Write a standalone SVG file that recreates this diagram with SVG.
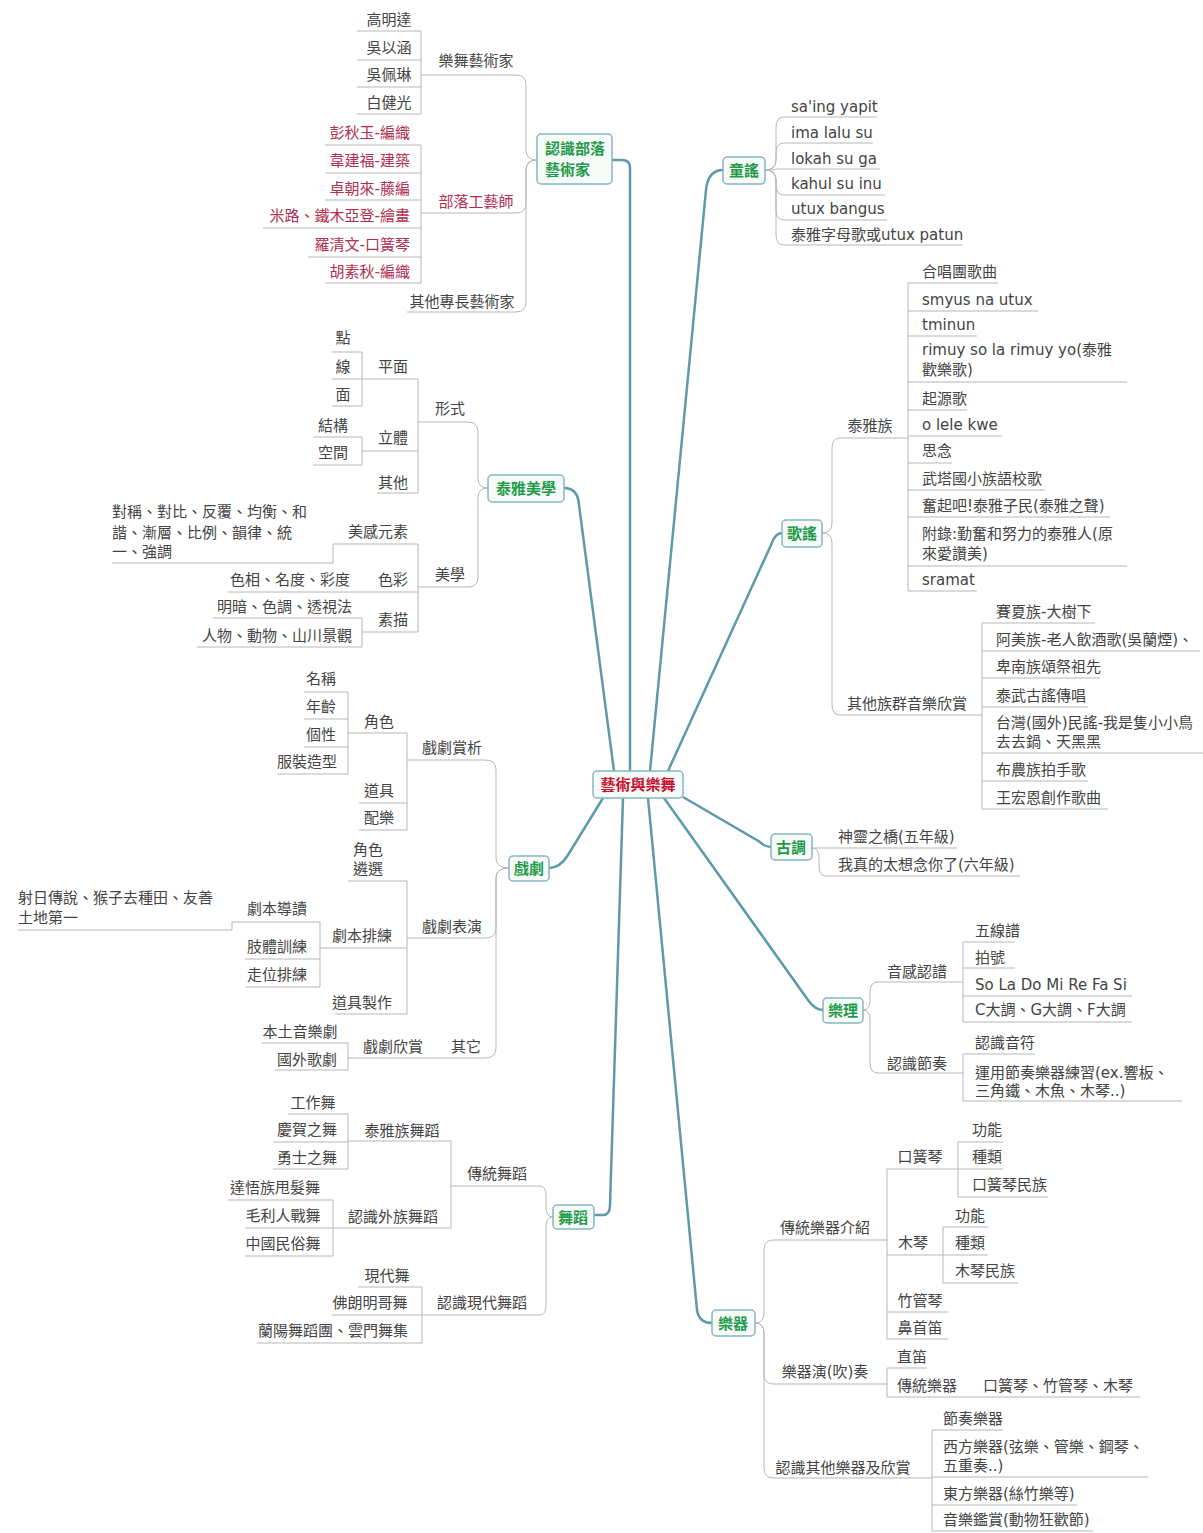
<svg xmlns="http://www.w3.org/2000/svg" width="1203" height="1533" viewBox="0 0 1203 1533">
<style>
text{font-family:"DejaVu Sans","Noto Sans CJK TC",sans-serif;font-size:15px;fill:#444}
.m{text-anchor:middle}
.e{text-anchor:end}
.r{fill:#b0304f}
.bx{fill:#f6fbf8;stroke:#86b6c1;stroke-width:1.5}
.bt{font-family:"Noto Sans CJK TC",sans-serif;font-weight:bold;fill:#1f9a4a}
.ct{font-family:"Noto Sans CJK TC",sans-serif;font-weight:bold;fill:#c8102e;text-anchor:middle}
.main{fill:none;stroke:#5e9aaa;stroke-width:2.5}
.sub{fill:none;stroke:#b5b8b8;stroke-width:1}
line{stroke:#b5b8b8;stroke-width:1}
</style>

<g id="connectors">
  <g id="main-lines">
    <path class="main" d="M612,160 H622 Q630,160 630,168 V771"/>
    <path class="main" d="M564,488 Q578,488 579,505 L614,771"/>
    <path class="main" d="M549,868 Q560,868 568,855 L603,798"/>
    <path class="main" d="M594,1215 H603 Q610,1215 610,1205 L623,798"/>
    <path class="main" d="M650,771 L706,190 Q708,170 723,170"/>
    <path class="main" d="M668,771 L771,545 Q775,533 782,533"/>
    <path class="main" d="M683,797 L760,842 Q765,847 771,847"/>
    <path class="main" d="M664,798 L808,1000 Q815,1010 823,1010"/>
    <path class="main" d="M648,798 L697,1310 Q699,1323 712,1323"/>
  </g>
  <g id="branch-curves">
    <path class="sub" d="M537,160 Q526,160 526,150 V85 Q526,75 516,75"/>
    <path class="sub" d="M537,160 Q526,160 526,170 V203 Q526,213 516,213"/>
    <path class="sub" d="M537,160 Q526,160 526,170 V302 Q526,312 516,312"/>
    <path class="sub" d="M488,488 Q478,488 478,478 V432 Q478,422 468,422"/>
    <path class="sub" d="M488,488 Q478,488 478,498 V577 Q478,587 468,587"/>
    <path class="sub" d="M509,868 Q496,868 496,858 V770 Q496,760 485,760"/>
    <path class="sub" d="M509,868 Q496,868 496,878 V928 Q496,938 485,938"/>
    <path class="sub" d="M509,868 Q496,868 496,878 V1048 Q496,1058 485,1058"/>
    <path class="sub" d="M553,1217 Q546,1217 546,1207 V1196 Q546,1186 540,1186"/>
    <path class="sub" d="M553,1217 Q546,1217 546,1227 V1305 Q546,1315 540,1315"/>
    <path class="sub" d="M765,170 Q776,170 776,160 V127 Q776,117 784,117"/>
    <path class="sub" d="M765,170 Q776,170 776,160 V153 Q776,143 784,143"/>
    <path class="sub" d="M765,170 Q776,170 776,169 Q776,169 784,169"/>
    <path class="sub" d="M765,170 Q776,170 776,180 V185 Q776,195 784,195"/>
    <path class="sub" d="M765,170 Q776,170 776,180 V210 Q776,220 784,220"/>
    <path class="sub" d="M765,170 Q776,170 776,180 V235 Q776,245 784,245"/>
    <path class="sub" d="M822,533 Q832,533 832,523 V448 Q832,438 840,438"/>
    <path class="sub" d="M822,533 Q832,533 832,543 V705 Q832,715 840,715"/>
    <path class="sub" d="M812,848 H826"/>
    <path class="sub" d="M812,848 Q819,848 819,858 V866 Q819,876 826,876"/>
    <path class="sub" d="M863,1010 Q870,1010 870,1000 V992 Q870,982 878,982"/>
    <path class="sub" d="M863,1010 Q870,1010 870,1020 V1063 Q870,1073 878,1073"/>
    <path class="sub" d="M755,1323 Q764,1323 764,1313 V1250 Q764,1240 773,1240"/>
    <path class="sub" d="M755,1323 Q764,1323 764,1333 V1374 Q764,1384 773,1384"/>
    <path class="sub" d="M755,1323 Q764,1323 764,1333 V1468 Q764,1478 773,1478"/>
  </g>
  <g id="brackets">
    <path class="sub" d="M421,31 V114"/>
    <path class="sub" d="M421,145 V283"/>
    <path class="sub" d="M418,379 V493"/>
    <path class="sub" d="M362,352 V406"/>
    <path class="sub" d="M362,437 V465"/>
    <path class="sub" d="M418,544 V632"/>
    <path class="sub" d="M112,563 H333 V544"/>
    <path class="sub" d="M362,618 V647"/>
    <path class="sub" d="M407,733 V830"/>
    <path class="sub" d="M348,692 V774"/>
    <path class="sub" d="M407,881 V1014"/>
    <path class="sub" d="M320,922 V987"/>
    <path class="sub" d="M18,930 H232 V922"/>
    <path class="sub" d="M348,1043 V1070"/>
    <path class="sub" d="M451,1141 V1228"/>
    <path class="sub" d="M348,1114 V1169"/>
    <path class="sub" d="M333,1200 V1256"/>
    <path class="sub" d="M422,1287 V1343"/>
    <path class="sub" d="M908,283 V591"/>
    <path class="sub" d="M982,623 V809"/>
    <path class="sub" d="M963,942 V1022"/>
    <path class="sub" d="M963,1054 V1101"/>
    <path class="sub" d="M887,1169 V1339"/>
    <path class="sub" d="M958,1142 V1197"/>
    <path class="sub" d="M943,1227 V1283"/>
    <path class="sub" d="M887,1368 V1397"/>
    <path class="sub" d="M932,1430 V1531"/>
  </g>
</g>

<g id="root"><rect class="bx" x="593" y="771" width="90" height="27" rx="4"/><text class="ct" x="638" y="790">藝術與樂舞</text></g>

<g id="n-artists"><rect class="bx" x="537" y="134" width="75" height="50" rx="4"/><text class="bt" x="545" y="154">認識部落</text><text class="bt" x="545" y="175">藝術家</text></g>
<g id="n-dance-art"><text class="m" x="476" y="66">樂舞藝術家</text><line x1="421" y1="75" x2="516" y2="75"/></g>
<g id="n-a1"><text class="m" x="389" y="25">高明達</text><line x1="357" y1="31" x2="421" y2="31"/></g>
<g id="n-a2"><text class="m" x="389" y="53">吳以涵</text><line x1="357" y1="60" x2="421" y2="60"/></g>
<g id="n-a3"><text class="m" x="389" y="80">吳佩琳</text><line x1="357" y1="87" x2="421" y2="87"/></g>
<g id="n-a4"><text class="m" x="389" y="108">白健光</text><line x1="357" y1="114" x2="421" y2="114"/></g>
<g id="n-craft"><text class="m r" x="476" y="207">部落工藝師</text><line x1="421" y1="213" x2="516" y2="213"/></g>
<g id="n-c1"><text class="e r" x="410" y="138">彭秋玉-編織</text><line x1="325" y1="145" x2="421" y2="145"/></g>
<g id="n-c2"><text class="e r" x="410" y="166">韋建福-建築</text><line x1="325" y1="173" x2="421" y2="173"/></g>
<g id="n-c3"><text class="e r" x="410" y="194">卓朝來-藤編</text><line x1="325" y1="200" x2="421" y2="200"/></g>
<g id="n-c4"><text class="e r" x="410" y="221">米路、鐵木亞登-繪畫</text><line x1="263" y1="228" x2="421" y2="228"/></g>
<g id="n-c5"><text class="e r" x="410" y="250">羅清文-口簧琴</text><line x1="308" y1="257" x2="421" y2="257"/></g>
<g id="n-c6"><text class="e r" x="410" y="277">胡素秋-編織</text><line x1="325" y1="283" x2="421" y2="283"/></g>
<g id="n-other-art"><text class="m" x="462" y="307">其他專長藝術家</text><line x1="407" y1="312" x2="516" y2="312"/></g>

<g id="n-aesthetics"><rect class="bx" x="488" y="475" width="76" height="27" rx="4"/><text class="bt m" x="526" y="494">泰雅美學</text></g>
<g id="n-form"><text class="m" x="450" y="414">形式</text><line x1="418" y1="422" x2="468" y2="422"/></g>
<g id="n-plane"><text class="m" x="393" y="372">平面</text><line x1="362" y1="379" x2="418" y2="379"/></g>
<g id="n-dot"><text class="m" x="343" y="343">點</text><line x1="332" y1="352" x2="362" y2="352"/></g>
<g id="n-line"><text class="m" x="343" y="372">線</text><line x1="332" y1="379" x2="362" y2="379"/></g>
<g id="n-face"><text class="m" x="343" y="400">面</text><line x1="332" y1="406" x2="362" y2="406"/></g>
<g id="n-solid"><text class="m" x="393" y="443">立體</text><line x1="362" y1="451" x2="418" y2="451"/></g>
<g id="n-struct"><text class="m" x="333" y="431">結構</text><line x1="313" y1="437" x2="362" y2="437"/></g>
<g id="n-space"><text class="m" x="333" y="458">空間</text><line x1="313" y1="465" x2="362" y2="465"/></g>
<g id="n-f-other"><text class="m" x="393" y="488">其他</text><line x1="377" y1="493" x2="418" y2="493"/></g>
<g id="n-beauty"><text class="m" x="450" y="580">美學</text><line x1="418" y1="587" x2="468" y2="587"/></g>
<g id="n-elements"><text class="m" x="378" y="537">美感元素</text><line x1="333" y1="544" x2="418" y2="544"/></g>
<g id="n-elements-list"><text x="112" y="517">對稱、對比、反覆、均衡、和</text><text x="112" y="538">諧、漸層、比例、韻律、統</text><text x="112" y="557">一、強調</text></g>
<g id="n-color"><text class="m" x="393" y="585">色彩</text><line x1="378" y1="592" x2="418" y2="592"/></g>
<g id="n-color-list"><text class="e" x="350" y="585">色相、名度、彩度</text><line x1="228" y1="592" x2="378" y2="592"/></g>
<g id="n-sketch"><text class="m" x="393" y="625">素描</text><line x1="362" y1="632" x2="418" y2="632"/></g>
<g id="n-sk1"><text class="e" x="352" y="612">明暗、色調、透視法</text><line x1="213" y1="618" x2="362" y2="618"/></g>
<g id="n-sk2"><text class="e" x="352" y="641">人物、動物、山川景觀</text><line x1="197" y1="647" x2="362" y2="647"/></g>

<g id="n-drama"><rect class="bx" x="509" y="856" width="40" height="25" rx="4"/><text class="bt m" x="529" y="874">戲劇</text></g>
<g id="n-d-appr"><text class="m" x="452" y="753">戲劇賞析</text><line x1="407" y1="760" x2="485" y2="760"/></g>
<g id="n-role"><text class="m" x="379" y="727">角色</text><line x1="348" y1="733" x2="407" y2="733"/></g>
<g id="n-r1"><text class="m" x="321" y="684">名稱</text><line x1="304" y1="692" x2="348" y2="692"/></g>
<g id="n-r2"><text class="m" x="321" y="712">年齡</text><line x1="304" y1="719" x2="348" y2="719"/></g>
<g id="n-r3"><text class="m" x="321" y="740">個性</text><line x1="304" y1="747" x2="348" y2="747"/></g>
<g id="n-r4"><text class="m" x="307" y="767">服裝造型</text><line x1="277" y1="774" x2="348" y2="774"/></g>
<g id="n-prop"><text class="m" x="379" y="796">道具</text><line x1="359" y1="803" x2="407" y2="803"/></g>
<g id="n-music"><text class="m" x="379" y="823">配樂</text><line x1="359" y1="830" x2="407" y2="830"/></g>
<g id="n-d-perf"><text class="m" x="452" y="932">戲劇表演</text><line x1="407" y1="938" x2="485" y2="938"/></g>
<g id="n-cast"><text class="m" x="368" y="855">角色</text><text class="m" x="368" y="874">遴選</text><line x1="348" y1="881" x2="407" y2="881"/></g>
<g id="n-rehearse"><text class="m" x="362" y="941">劇本排練</text><line x1="320" y1="948" x2="407" y2="948"/></g>
<g id="n-read"><text class="m" x="277" y="914">劇本導讀</text><line x1="232" y1="922" x2="320" y2="922"/></g>
<g id="n-read-list"><text x="18" y="903">射日傳說、猴子去種田、友善</text><text x="18" y="923">土地第一</text></g>
<g id="n-body"><text class="m" x="277" y="952">肢體訓練</text><line x1="245" y1="959" x2="320" y2="959"/></g>
<g id="n-walk"><text class="m" x="277" y="980">走位排練</text><line x1="245" y1="987" x2="320" y2="987"/></g>
<g id="n-propmake"><text class="m" x="362" y="1008">道具製作</text><line x1="335" y1="1014" x2="407" y2="1014"/></g>
<g id="n-d-other"><text class="m" x="466" y="1052">其它</text><line x1="437" y1="1058" x2="485" y2="1058"/></g>
<g id="n-d-watch"><text class="m" x="393" y="1052">戲劇欣賞</text><line x1="348" y1="1058" x2="437" y2="1058"/></g>
<g id="n-w1"><text class="m" x="300" y="1037">本土音樂劇</text><line x1="261" y1="1043" x2="348" y2="1043"/></g>
<g id="n-w2"><text class="m" x="307" y="1065">國外歌劇</text><line x1="275" y1="1070" x2="348" y2="1070"/></g>

<g id="n-dance"><rect class="bx" x="553" y="1205" width="41" height="24" rx="4"/><text class="bt m" x="573" y="1223">舞蹈</text></g>
<g id="n-trad-dance"><text class="m" x="497" y="1179">傳統舞蹈</text><line x1="451" y1="1186" x2="540" y2="1186"/></g>
<g id="n-atayal-dance"><text class="m" x="402" y="1136">泰雅族舞蹈</text><line x1="348" y1="1141" x2="451" y2="1141"/></g>
<g id="n-td1"><text class="m" x="313" y="1108">工作舞</text><line x1="288" y1="1114" x2="348" y2="1114"/></g>
<g id="n-td2"><text class="m" x="307" y="1135">慶賀之舞</text><line x1="273" y1="1142" x2="348" y2="1142"/></g>
<g id="n-td3"><text class="m" x="307" y="1163">勇士之舞</text><line x1="273" y1="1169" x2="348" y2="1169"/></g>
<g id="n-other-dance"><text class="m" x="393" y="1222">認識外族舞蹈</text><line x1="333" y1="1228" x2="451" y2="1228"/></g>
<g id="n-od1"><text class="m" x="275" y="1193">達悟族甩髮舞</text><line x1="228" y1="1200" x2="333" y2="1200"/></g>
<g id="n-od2"><text class="m" x="283" y="1221">毛利人戰舞</text><line x1="245" y1="1228" x2="333" y2="1228"/></g>
<g id="n-od3"><text class="m" x="283" y="1249">中國民俗舞</text><line x1="245" y1="1256" x2="333" y2="1256"/></g>
<g id="n-modern"><text class="m" x="482" y="1308">認識現代舞蹈</text><line x1="422" y1="1315" x2="540" y2="1315"/></g>
<g id="n-md1"><text class="m" x="387" y="1281">現代舞</text><line x1="358" y1="1287" x2="422" y2="1287"/></g>
<g id="n-md2"><text class="m" x="370" y="1308">佛朗明哥舞</text><line x1="332" y1="1315" x2="422" y2="1315"/></g>
<g id="n-md3"><text class="m" x="333" y="1336">蘭陽舞蹈團、雲門舞集</text><line x1="257" y1="1343" x2="422" y2="1343"/></g>

<g id="n-rhymes"><rect class="bx" x="723" y="157" width="42" height="27" rx="4"/><text class="bt m" x="744" y="176">童謠</text></g>
<g id="n-y1"><text x="791" y="112">sa'ing yapit</text><line x1="784" y1="117" x2="877" y2="117"/></g>
<g id="n-y2"><text x="791" y="138">ima lalu su</text><line x1="784" y1="143" x2="873" y2="143"/></g>
<g id="n-y3"><text x="791" y="164">lokah su ga</text><line x1="784" y1="169" x2="880" y2="169"/></g>
<g id="n-y4"><text x="791" y="189">kahul su inu</text><line x1="784" y1="195" x2="885" y2="195"/></g>
<g id="n-y5"><text x="791" y="214">utux bangus</text><line x1="784" y1="220" x2="887" y2="220"/></g>
<g id="n-y6"><text x="791" y="240">泰雅字母歌或utux patun</text><line x1="784" y1="245" x2="963" y2="245"/></g>

<g id="n-songs"><rect class="bx" x="782" y="520" width="40" height="27" rx="4"/><text class="bt m" x="802" y="539">歌謠</text></g>
<g id="n-atayal"><text class="m" x="870" y="431">泰雅族</text><line x1="840" y1="438" x2="908" y2="438"/></g>
<g id="n-s1"><text x="922" y="277">合唱團歌曲</text><line x1="908" y1="283" x2="998" y2="283"/></g>
<g id="n-s2"><text x="922" y="305">smyus na utux</text><line x1="908" y1="311" x2="1038" y2="311"/></g>
<g id="n-s3"><text x="922" y="330">tminun</text><line x1="908" y1="336" x2="977" y2="336"/></g>
<g id="n-s4"><text x="922" y="355">rimuy so la rimuy yo(泰雅</text><text x="922" y="375">歡樂歌)</text><line x1="908" y1="382" x2="1127" y2="382"/></g>
<g id="n-s5"><text x="922" y="404">起源歌</text><line x1="908" y1="410" x2="967" y2="410"/></g>
<g id="n-s6"><text x="922" y="430">o lele kwe</text><line x1="908" y1="436" x2="1002" y2="436"/></g>
<g id="n-s7"><text x="922" y="456">思念</text><line x1="908" y1="463" x2="952" y2="463"/></g>
<g id="n-s8"><text x="922" y="484">武塔國小族語校歌</text><line x1="908" y1="490" x2="1045" y2="490"/></g>
<g id="n-s9"><text x="922" y="511">奮起吧!泰雅子民(泰雅之聲)</text><line x1="908" y1="517" x2="1110" y2="517"/></g>
<g id="n-s10"><text x="922" y="539">附錄:勤奮和努力的泰雅人(原</text><text x="922" y="559">來愛讚美)</text><line x1="908" y1="566" x2="1127" y2="566"/></g>
<g id="n-s11"><text x="922" y="585">sramat</text><line x1="908" y1="591" x2="977" y2="591"/></g>
<g id="n-others"><text class="m" x="907" y="709">其他族群音樂欣賞</text><line x1="840" y1="715" x2="982" y2="715"/></g>
<g id="n-o1"><text x="996" y="617">賽夏族-大樹下</text><line x1="982" y1="623" x2="1095" y2="623"/></g>
<g id="n-o2"><text x="996" y="645">阿美族-老人飲酒歌(吳蘭煙)、</text><line x1="982" y1="651" x2="1200" y2="651"/></g>
<g id="n-o3"><text x="996" y="672">卑南族頌祭祖先</text><line x1="982" y1="678" x2="1100" y2="678"/></g>
<g id="n-o4"><text x="996" y="701">泰武古謠傳唱</text><line x1="982" y1="707" x2="1088" y2="707"/></g>
<g id="n-o5"><text x="996" y="728">台灣(國外)民謠-我是隻小小鳥</text><text x="996" y="747">去去鍋、天黑黑</text><line x1="982" y1="753" x2="1203" y2="753"/></g>
<g id="n-o6"><text x="996" y="775">布農族拍手歌</text><line x1="982" y1="781" x2="1088" y2="781"/></g>
<g id="n-o7"><text x="996" y="803">王宏恩創作歌曲</text><line x1="982" y1="809" x2="1108" y2="809"/></g>

<g id="n-ancient"><rect class="bx" x="771" y="834" width="41" height="26" rx="4"/><text class="bt m" x="791" y="853">古調</text></g>
<g id="n-g1"><text x="838" y="842">神靈之橋(五年級)</text><line x1="826" y1="848" x2="957" y2="848"/></g>
<g id="n-g2"><text x="838" y="870">我真的太想念你了(六年級)</text><line x1="826" y1="876" x2="1020" y2="876"/></g>

<g id="n-theory"><rect class="bx" x="823" y="998" width="40" height="25" rx="4"/><text class="bt m" x="843" y="1016">樂理</text></g>
<g id="n-pitch"><text class="m" x="917" y="977">音感認譜</text><line x1="878" y1="982" x2="963" y2="982"/></g>
<g id="n-p1"><text x="975" y="936">五線譜</text><line x1="963" y1="942" x2="1015" y2="942"/></g>
<g id="n-p2"><text x="975" y="963">拍號</text><line x1="963" y1="968" x2="1015" y2="968"/></g>
<g id="n-p3"><text x="975" y="990">So La Do Mi Re Fa Si</text><line x1="963" y1="996" x2="1132" y2="996"/></g>
<g id="n-p4"><text x="975" y="1015">C大調、G大調、F大調</text><line x1="963" y1="1022" x2="1132" y2="1022"/></g>
<g id="n-rhythm"><text class="m" x="917" y="1069">認識節奏</text><line x1="878" y1="1073" x2="963" y2="1073"/></g>
<g id="n-rh1"><text x="975" y="1048">認識音符</text><line x1="963" y1="1054" x2="1035" y2="1054"/></g>
<g id="n-rh2"><text x="975" y="1078">運用節奏樂器練習(ex.響板、</text><text x="975" y="1096">三角鐵、木魚、木琴..)</text><line x1="963" y1="1101" x2="1182" y2="1101"/></g>

<g id="n-instr"><rect class="bx" x="712" y="1310" width="43" height="26" rx="4"/><text class="bt m" x="733" y="1329">樂器</text></g>
<g id="n-trad-instr"><text class="m" x="825" y="1233">傳統樂器介紹</text><line x1="773" y1="1240" x2="887" y2="1240"/></g>
<g id="n-jaw"><text class="m" x="920" y="1162">口簧琴</text><line x1="887" y1="1169" x2="958" y2="1169"/></g>
<g id="n-j1"><text x="972" y="1135">功能</text><line x1="958" y1="1142" x2="1003" y2="1142"/></g>
<g id="n-j2"><text x="972" y="1162">種類</text><line x1="958" y1="1169" x2="1003" y2="1169"/></g>
<g id="n-j3"><text x="972" y="1190">口簧琴民族</text><line x1="958" y1="1197" x2="1048" y2="1197"/></g>
<g id="n-xylo"><text class="m" x="913" y="1248">木琴</text><line x1="887" y1="1255" x2="943" y2="1255"/></g>
<g id="n-x1"><text x="955" y="1221">功能</text><line x1="943" y1="1227" x2="988" y2="1227"/></g>
<g id="n-x2"><text x="955" y="1248">種類</text><line x1="943" y1="1255" x2="988" y2="1255"/></g>
<g id="n-x3"><text x="955" y="1276">木琴民族</text><line x1="943" y1="1283" x2="1018" y2="1283"/></g>
<g id="n-bamboo"><text class="m" x="920" y="1306">竹管琴</text><line x1="887" y1="1312" x2="948" y2="1312"/></g>
<g id="n-nose"><text class="m" x="920" y="1333">鼻首笛</text><line x1="887" y1="1339" x2="948" y2="1339"/></g>
<g id="n-play"><text class="m" x="825" y="1377">樂器演(吹)奏</text><line x1="773" y1="1384" x2="887" y2="1384"/></g>
<g id="n-pl1"><text x="897" y="1362">直笛</text><line x1="887" y1="1368" x2="927" y2="1368"/></g>
<g id="n-pl2"><text x="897" y="1391">傳統樂器</text><line x1="887" y1="1397" x2="975" y2="1397"/></g>
<g id="n-pl3"><text x="983" y="1391">口簧琴、竹管琴、木琴</text><line x1="975" y1="1397" x2="1140" y2="1397"/></g>
<g id="n-other-instr"><text class="m" x="843" y="1473">認識其他樂器及欣賞</text><line x1="773" y1="1478" x2="932" y2="1478"/></g>
<g id="n-oi1"><text x="943" y="1424">節奏樂器</text><line x1="932" y1="1430" x2="1003" y2="1430"/></g>
<g id="n-oi2"><text x="943" y="1452">西方樂器(弦樂、管樂、鋼琴、</text><text x="943" y="1471">五重奏..)</text><line x1="932" y1="1477" x2="1148" y2="1477"/></g>
<g id="n-oi3"><text x="943" y="1499">東方樂器(絲竹樂等)</text><line x1="932" y1="1505" x2="1077" y2="1505"/></g>
<g id="n-oi4"><text x="943" y="1525">音樂鑑賞(動物狂歡節)</text><line x1="932" y1="1531" x2="1093" y2="1531"/></g>
</svg>
